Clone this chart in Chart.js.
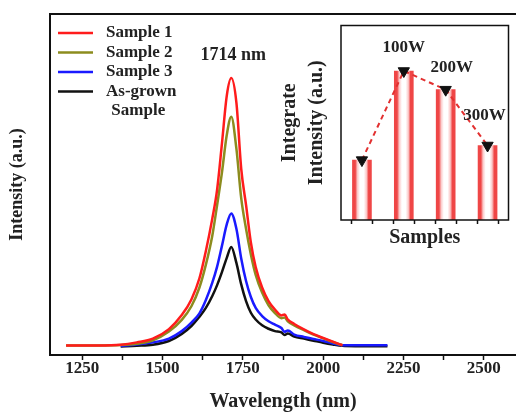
<!DOCTYPE html>
<html>
<head>
<meta charset="utf-8">
<script src="https://cdn.jsdelivr.net/npm/chart.js@4.4.0/dist/chart.umd.min.js"></script>
<style>
  html, body { margin: 0; padding: 0; background: #fff; overflow: hidden; }
  #wrap { position: relative; width: 516px; height: 414px; }
  #mainChart { position: absolute; left: 0; top: 0; }
  #insetChart { position: absolute; left: 270px; top: 18px; }
</style>
</head>
<body>
<div id="wrap">
  <canvas id="mainChart" width="516" height="414"></canvas>
  <canvas id="insetChart" width="246" height="242"></canvas>
</div>
<script>
// Photoluminescence spectra (wavelength in nm, intensity in a.u.)
const wavelengths = [1200, 1300, 1370, 1420, 1470, 1520, 1560, 1590, 1615, 1635, 1655, 1670, 1685, 1700, 1714,
  1730, 1745, 1760, 1775, 1790, 1810, 1830, 1850, 1870, 1880, 1890, 1910, 1940, 1970, 2000, 2030, 2060, 2100, 2150, 2200];

const sample1 = [2.8, 2.8, 3.0, 3.7, 4.8, 7.6, 11.7, 16.3, 22.5, 30.5, 40, 48.5, 62, 76, 81.2,
  74, 54.6, 44, 33, 25.8, 19.8, 15.8, 13.3, 11.6, 11.9, 10.4, 9.1, 7.5, 6.1, 5.0, 3.9, 2.85, null, null, null];

const sample2 = [2.8, 2.8, 2.9, 3.3, 4.3, 6.9, 10.3, 14.3, 19.8, 26.5, 35, 44, 53.5, 64.5, 69.9,
  60.5, 46, 37, 29.5, 23.5, 18.3, 14.6, 12.3, 10.8, 11.0, 9.9, 8.7, 7.3, 6.0, 4.9, 3.8, 2.85, null, null, null];

const sample3 = [null, null, 2.6, 3.1, 3.7, 4.8, 7.0, 9.5, 12.2, 16.1, 21.2, 25.9, 32, 38.3, 41.5,
  37, 28.3, 21.7, 17, 13.8, 11.4, 9.9, 8.9, 7.9, 6.8, 7.2, 6.0, 5.3, 4.7, 4.1, 3.4, 2.85, 2.85, 2.85, 2.85];

const asGrown = [null, null, 2.5, 2.7, 3.0, 4.1, 6.2, 8.5, 11.2, 13.8, 17.3, 20.5, 24.3, 28.5, 31.7,
  27, 20.7, 15.8, 12.4, 10.4, 8.7, 7.7, 7.0, 6.6, 5.9, 6.3, 5.4, 4.8, 4.2, 3.6, 3.1, 2.7, 2.6, 2.6, 2.6];

const seriesLabels = [['Sample 1'], ['Sample 2'], ['Sample 3'], ['As-grown', 'Sample']];
const seriesColors = ['#ff1c1c', '#8c8c1e', '#1a1aff', '#111111'];
const peakLabel = '1714 nm';

// Inset: integrated intensity per sample
const insetSamples = [1, 2, 3, 4];
const insetValues = [30.8, 76.6, 67.0, 38.3];
const insetLabels = ['', '100W', '200W', '300W'];

const SERIF = "'Liberation Serif', 'Times New Roman', serif";
const BAR_WIDTH = 19;

function toPoints(arr) {
  return wavelengths.map((w, i) => ({ x: w, y: arr[i] }));
}

const spectra = [sample1, sample2, sample3, asGrown];

/**
 * Frame around the plot area plus legend and peak annotation
 */
const mainDecor = {
  id: 'mainDecor',
  afterDraw(chart) {
    const { ctx, chartArea } = chart;
    ctx.save();
    ctx.strokeStyle = '#111';
    ctx.lineWidth = 2;
    ctx.strokeRect(chartArea.left, chartArea.top, chartArea.right - chartArea.left + 4, chartArea.bottom - chartArea.top);

    // legend
    ctx.font = `bold 17px ${SERIF}`;
    ctx.textBaseline = 'middle';
    seriesLabels.forEach((lines, i) => {
      const y = 33 + i * 19.5;
      ctx.strokeStyle = seriesColors[i];
      ctx.lineWidth = 2.5;
      ctx.beginPath();
      ctx.moveTo(58, y);
      ctx.lineTo(93, y);
      ctx.stroke();
      ctx.fillStyle = '#222';
      ctx.textAlign = 'left';
      ctx.fillText(lines[0], 106, y);
      if (lines[1]) {
        const w = ctx.measureText(lines[0]).width;
        ctx.textAlign = 'center';
        ctx.fillText(lines[1], 106 + w / 2 - 3, y + 19.5);
      }
    });

    // peak annotation above Sample 1 maximum
    const peakIdx = sample1.indexOf(Math.max(...sample1.filter((v) => v !== null)));
    const px = chart.scales.x.getPixelForValue(wavelengths[peakIdx]);
    const py = chart.scales.y.getPixelForValue(sample1[peakIdx]);
    ctx.font = `bold 18px ${SERIF}`;
    ctx.textAlign = 'center';
    ctx.fillStyle = '#222';
    ctx.fillText(peakLabel, px + 2, py - 23);
    ctx.restore();
  },
};

new Chart(document.getElementById('mainChart'), {
  type: 'line',
  data: {
    datasets: spectra.map((arr, i) => ({
      label: seriesLabels[i].join(' '),
      data: toPoints(arr),
      borderColor: seriesColors[i],
      borderWidth: 2.5,
      pointRadius: 0,
      cubicInterpolationMode: 'monotone',
      spanGaps: false,
    })),
  },
  options: {
    responsive: false,
    animation: false,
    devicePixelRatio: 1,
    layout: { padding: { top: 14, right: 0, left: 0, bottom: 0 } },
    plugins: { legend: { display: false }, tooltip: { enabled: false } },
    scales: {
      x: {
        type: 'linear',
        min: 1150,
        max: 2600,
        afterFit: (scale) => { scale.height = 59; },
        border: { display: false },
        grid: { drawOnChartArea: false, tickLength: 5, tickColor: '#111', tickWidth: 1.5 },
        ticks: {
          stepSize: 125,
          includeBounds: false,
          autoSkip: false,
          maxRotation: 0,
          padding: -2,
          color: '#222',
          font: { family: SERIF, size: 17, weight: 'bold' },
          callback: (v) => (v % 250 === 0 ? v : ''),
        },
        title: {
          display: true,
          text: 'Wavelength (nm)',
          color: '#222',
          font: { family: SERIF, size: 20, weight: 'bold' },
          padding: { top: 0, bottom: 0 },
        },
      },
      y: {
        min: 0,
        max: 100,
        afterFit: (scale) => { scale.width = 50; },
        border: { display: false },
        grid: { display: false },
        ticks: { display: false },
        title: {
          display: true,
          text: 'Intensity (a.u.)',
          color: '#222',
          font: { family: SERIF, size: 18, weight: 'bold' },
          padding: { top: 7, bottom: 0 },
        },
      },
    },
  },
  plugins: [mainDecor],
});

/**
 * Inset: striped bar fill before drawing, frame and power labels after
 */
const insetDecor = {
  id: 'insetDecor',
  beforeDatasetsDraw(chart) {
    // bar options are shared, so one horizontal gradient spans all bars
    const { chartArea } = chart;
    const meta = chart.getDatasetMeta(1);
    const span = chartArea.right - chartArea.left;
    const g = chart.ctx.createLinearGradient(chartArea.left, 0, chartArea.right, 0);
    const stops = [[0, '#ef4646'], [0.15, '#ef4646'], [0.26, '#fbc8c8'], [0.4, '#ffffff'],
      [0.6, '#ffffff'], [0.74, '#fbc8c8'], [0.85, '#ef4646'], [1, '#ef4646']];
    meta.data.forEach((bar) => {
      const x0 = bar.x - bar.width / 2;
      stops.forEach(([t, c]) => {
        const pos = (x0 + t * bar.width - chartArea.left) / span;
        g.addColorStop(Math.min(1, Math.max(0, pos)), c);
      });
    });
    meta.data.forEach((bar) => { bar.options.backgroundColor = g; });
  },
  afterDraw(chart) {
    const { ctx, chartArea } = chart;
    ctx.save();
    ctx.strokeStyle = '#111';
    ctx.lineWidth = 1.5;
    ctx.strokeRect(chartArea.left, chartArea.top, chartArea.right - chartArea.left, chartArea.bottom - chartArea.top);

    const nudge = [[0, 0], [0, -23], [6, -22], [-3, -30]];
    ctx.font = `bold 17px ${SERIF}`;
    ctx.fillStyle = '#222';
    ctx.textAlign = 'center';
    ctx.textBaseline = 'middle';
    insetLabels.forEach((txt, i) => {
      if (!txt) return;
      const x = chart.scales.x.getPixelForValue(insetSamples[i]);
      const y = chart.scales.y.getPixelForValue(insetValues[i]);
      ctx.fillText(txt, x + nudge[i][0], y + nudge[i][1]);
    });
    ctx.restore();
  },
};

const insetPoints = insetSamples.map((s, i) => ({ x: s, y: insetValues[i] }));

new Chart(document.getElementById('insetChart'), {
  type: 'bar',
  data: {
    datasets: [
      {
        type: 'line',
        data: insetPoints,
        borderColor: '#e23030',
        borderWidth: 2,
        borderDash: [5, 4],
        pointStyle: 'triangle',
        rotation: 180,
        pointRadius: 6.5,
        pointBackgroundColor: '#111',
        pointBorderColor: '#111',
        pointBorderWidth: 1,
      },
      {
        data: insetPoints,
        barThickness: BAR_WIDTH,
        backgroundColor: '#f6a0a0',
        borderWidth: 0,
      },
    ],
  },
  options: {
    responsive: false,
    animation: false,
    devicePixelRatio: 1,
    layout: { padding: { top: 7, right: 6, left: 0, bottom: 0 } },
    plugins: { legend: { display: false }, tooltip: { enabled: false } },
    scales: {
      x: {
        type: 'linear',
        min: 0.5,
        max: 4.5,
        offset: false,
        afterFit: (scale) => { scale.height = 40; },
        border: { display: false },
        grid: { drawOnChartArea: false, tickLength: 4, tickColor: '#111', tickWidth: 1.5 },
        ticks: { stepSize: 0.5, display: false },
        title: {
          display: true,
          text: 'Samples',
          color: '#222',
          font: { family: SERIF, size: 20, weight: 'bold' },
          padding: { top: 0, bottom: 10 },
        },
      },
      y: {
        min: 0,
        max: 100,
        afterFit: (scale) => { scale.width = 71; },
        border: { display: false },
        grid: { display: false },
        ticks: { display: false },
        title: {
          display: true,
          text: ['Integrate', 'Intensity (a.u.)'],
          color: '#222',
          font: { family: SERIF, size: 20, weight: 'bold', lineHeight: 1.35 },
          padding: { top: 6.5, bottom: 0 },
        },
      },
    },
  },
  plugins: [insetDecor],
});
</script>
</body>
</html>
